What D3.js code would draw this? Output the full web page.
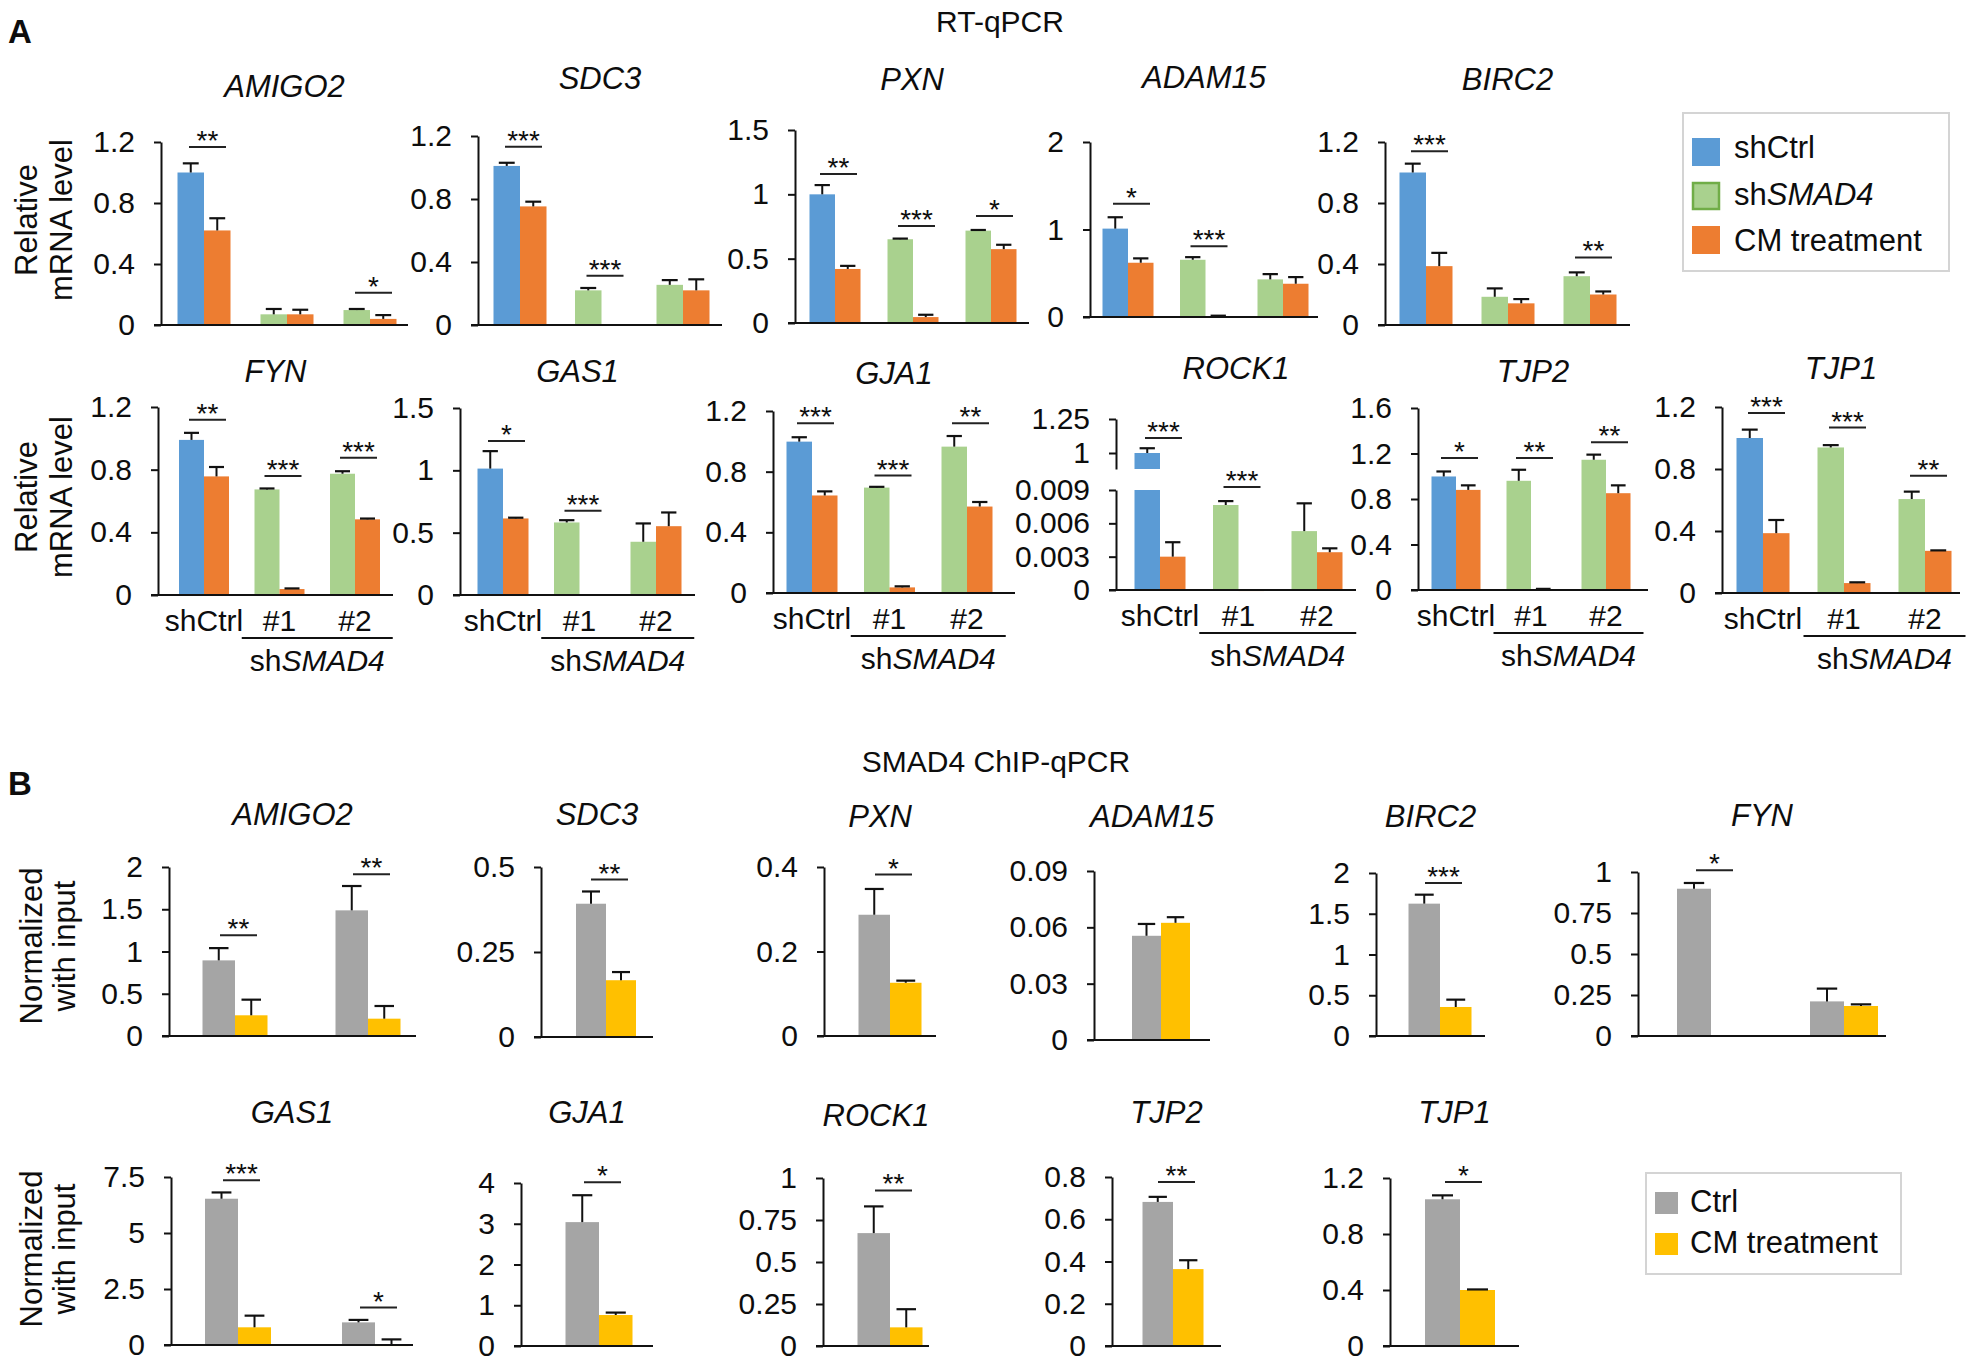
<!DOCTYPE html>
<html><head><meta charset="utf-8">
<script src="https://cdn.jsdelivr.net/npm/d3@7"></script>
<style>
body{margin:0;background:#fff;}
svg text{font-family:"Liberation Sans",Arial,sans-serif;fill:#0d0d0d;}
</style></head><body>
<svg id="fig" width="1983" height="1363"></svg>
<script>
// ---------------- DATA: panel A (RT-qPCR) ----------------
const rtGenes = ["AMIGO2","SDC3","PXN","ADAM15","BIRC2","FYN","GAS1","GJA1","ROCK1","TJP2","TJP1"];
const rtGroups = ["shCtrl","#1","#2"];
const rtShCtrl      = [1.00, 1.01, 1.00, 1.01, 1.00, 0.99, 1.014, 0.998, 1.0, 0.998, 1.00];
const rtShCtrlErr   = [0.06, 0.02, 0.072, 0.13, 0.058, 0.045, 0.14, 0.029, 0.035, 0.044, 0.054];
const rtShCtrlCM    = [0.62, 0.753, 0.42, 0.62, 0.386, 0.757, 0.614, 0.643, 0.003, 0.88, 0.386];
const rtShCtrlCMErr = [0.08, 0.03, 0.024, 0.05, 0.087, 0.06, 0.006, 0.027, 0.0013, 0.04, 0.085];
const rtSh1         = [0.07, 0.22, 0.651, 0.654, 0.185, 0.674, 0.582, 0.695, 0.00765, 0.96, 0.939];
const rtSh1Err      = [0.035, 0.015, 0.005, 0.03, 0.055, 0.006, 0.018, 0.005, 0.00035, 0.097, 0.015];
const rtSh1CM       = [0.07, 0, 0.046, 0.01, 0.142, 0.038, 0, 0.037, 0.00004, 0.005, 0.064];
const rtSh1CMErr    = [0.03, 0, 0.018, 0.005, 0.028, 0.004, 0, 0.007, 0, 0.005, 0.005];
const rtSh2         = [0.098, 0.255, 0.718, 0.43, 0.32, 0.774, 0.427, 0.965, 0.0053, 1.145, 0.606];
const rtSh2Err      = [0.007, 0.03, 0.005, 0.06, 0.025, 0.016, 0.147, 0.07, 0.0025, 0.045, 0.048];
const rtSh2CM       = [0.04, 0.22, 0.574, 0.38, 0.20, 0.483, 0.552, 0.57, 0.0034, 0.851, 0.272];
const rtSh2CMErr    = [0.025, 0.07, 0.034, 0.076, 0.02, 0.005, 0.11, 0.03, 0.00035, 0.069, 0.003];
const rtYTicks = [
  [0,0.4,0.8,1.2],[0,0.4,0.8,1.2],[0,0.5,1,1.5],[0,1,2],[0,0.4,0.8,1.2],
  [0,0.4,0.8,1.2],[0,0.5,1,1.5],[0,0.4,0.8,1.2],[0,0.003,0.006,0.009],[0,0.4,0.8,1.2,1.6],[0,0.4,0.8,1.2]
];
const rock1UpperTicks = [1, 1.25];
const rtSig = [
  [[0,"**",1.167],[2,"*",0.212]],
  [[0,"***",1.132],[1,"***",0.313]],
  [[0,"**",1.159],[1,"***",0.754],[2,"*",0.831]],
  [[0,"*",1.293],[1,"***",0.81]],
  [[0,"***",1.139],[2,"**",0.443]],
  [[0,"**",1.119],[1,"***",0.759],[2,"***",0.876]],
  [[0,"*",1.236],[1,"***",0.675]],
  [[0,"***",1.119],[1,"***",0.774],[2,"**",1.119]],
  [[0,"***",1.11],[1,"***",0.00927]],
  [[0,"*",1.16],[1,"**",1.16],[2,"**",1.298]],
  [[0,"***",1.161],[1,"***",1.067],[2,"**",0.756]]
];

// ---------------- DATA: panel B (SMAD4 ChIP-qPCR) ----------------
const chipGenes    = ["AMIGO2","SDC3","PXN","ADAM15","BIRC2","FYN","GAS1","GJA1","ROCK1","TJP2","TJP1"];
const chipCtrl1    = [0.895, 0.392, 0.287, 0.0555, 1.624, 0.898, 6.53, 3.04, 0.672, 0.682, 1.048];
const chipCtrl1Err = [0.145, 0.036, 0.061, 0.0063, 0.11, 0.035, 0.28, 0.66, 0.159, 0.024, 0.028];
const chipCM1      = [0.245, 0.167, 0.126, 0.0624, 0.356, 0, 0.79, 0.76, 0.111, 0.364, 0.40];
const chipCM1Err   = [0.185, 0.024, 0.005, 0.003, 0.09, 0, 0.52, 0.06, 0.108, 0.042, 0.004];
const chipCtrl2    = [1.487, null, null, null, null, 0.211, 1.01, null, null, null, null];
const chipCtrl2Err = [0.288, null, null, null, null, 0.078, 0.11, null, null, null, null];
const chipCM2      = [0.205, null, null, null, null, 0.183, 0.02, null, null, null, null];
const chipCM2Err   = [0.15, null, null, null, null, 0.01, 0.23, null, null, null, null];
const chipYTicks = [
  [0,0.5,1,1.5,2],[0,0.25,0.5],[0,0.2,0.4],[0,0.03,0.06,0.09],[0,0.5,1,1.5,2],[0,0.25,0.5,0.75,1],
  [0,2.5,5,7.5],[0,1,2,3,4],[0,0.25,0.5,0.75,1],[0,0.2,0.4,0.6,0.8],[0,0.4,0.8,1.2]
];
const chipSig = [
  [[0,"**",1.191],[1,"**",1.913]],
  [[0,"**",0.463]],
  [[0,"*",0.382]],
  [],
  [[0,"***",1.877]],
  [[0,"*",1.01]],
  [[0,"***",7.35],[1,"*",1.67]],
  [[0,"*",4.02]],
  [[0,"**",0.926]],
  [[0,"**",0.776]],
  [[0,"*",1.171]]
];

// ---------------- LAYOUT (pixels) ----------------
// [axisX, axisEnd, firstGroupCenter, groupStep, barWidth, zeroY, topTickY, titleBaseline]
const rtLayout = [
  [161, 408, 204, 83, 26.5, 325, 142, 97],
  [478, 722, 520, 81.5, 26.5, 325, 136, 89],
  [795, 1029, 835, 78, 25.5, 323, 130, 90],
  [1090, 1318, 1128, 77.5, 25.5, 317, 142, 88],
  [1385, 1630, 1426, 82, 26.5, 325, 142, 90],
  [158, 393, 204, 75.5, 25, 595, 407, 382],
  [460, 695, 503, 76.5, 25.5, 595, 408, 382],
  [773, 1015, 812, 77.5, 25.5, 593, 411, 384],
  [1116, 1356, 1160, 78.5, 25.5, 590, 490, 379],
  [1418, 1648, 1456, 75, 24.5, 590, 408, 382],
  [1722, 1960, 1763, 81, 26.5, 593, 407, 379]
];
const chipLayout = [
  [169, 416, 235, 133, 32.5, 1036, 867, 825],
  [541, 653, 606, 100, 30, 1037, 867, 825],
  [824, 936, 890, 100, 31.5, 1036, 867, 827],
  [1094, 1210, 1161, 100, 29, 1040, 871, 827],
  [1376, 1485, 1440, 100, 31.5, 1036, 873, 827],
  [1638, 1886, 1711, 133, 34, 1036, 872, 826],
  [171, 413, 238, 137, 33, 1345, 1177, 1123],
  [521, 653, 599, 100, 33.5, 1346, 1183, 1123],
  [823, 929, 890, 100, 32.5, 1346, 1178, 1126],
  [1112, 1221, 1173, 100, 30.5, 1346, 1177, 1123],
  [1390, 1519, 1460, 100, 35, 1346, 1178, 1123]
];

const C = {blue:"#5B9BD5", green:"#A9D18E", greenEdge:"#70AD47", orange:"#ED7D31", gray:"#A5A5A5", yellow:"#FFC000"};
const FONT = '"Liberation Sans", Arial, sans-serif';
const svg = d3.select("#fig");
const fmt = d3.format("~g");

function yAxis(g, scale, ticks, ax) {
  g.append("g").attr("transform", `translate(${ax},0)`)
    .call(d3.axisLeft(scale).tickValues(ticks).tickSize(7).tickSizeOuter(0).tickPadding(19).tickFormat(fmt))
    .call(a => {
      a.attr("font-family", FONT);
      a.select(".domain").attr("stroke", "#111").attr("stroke-width", 2);
      a.selectAll(".tick line").attr("stroke", "#111").attr("stroke-width", 2);
      a.selectAll(".tick text").attr("font-size", 30).attr("fill", "#0d0d0d");
    });
}

function drawChart(p) {
  const g = svg.append("g");
  const n = p.groups.length;
  const x = d3.scaleBand().domain(p.groups).range([p.c0 - p.s / 2, p.c0 - p.s / 2 + n * p.s]);
  const sub = d3.scaleBand().domain([0, 1]).range([-p.bw, p.bw]);
  const cx = (gi) => x(p.groups[gi]) + x.bandwidth() / 2;
  const y = p.y;
  p.bars.forEach((grp, gi) => {
    grp.forEach((b, j) => {
      if (b.v == null) return;
      const bx = cx(gi) + sub(j);
      if (p.split && b.v > p.split.limit) {
        g.append("rect").attr("x", bx).attr("width", sub.bandwidth())
          .attr("y", p.split.lowTop).attr("height", p.zero - p.split.lowTop).attr("fill", b.c);
        g.append("rect").attr("x", bx).attr("width", sub.bandwidth())
          .attr("y", y(b.v)).attr("height", p.split.upBottom - y(b.v)).attr("fill", b.c);
      } else if (b.v > 0) {
        g.append("rect").attr("x", bx).attr("width", sub.bandwidth())
          .attr("y", y(b.v)).attr("height", Math.max(1.5, p.zero - y(b.v))).attr("fill", b.c);
      }
      if (b.e) {
        const mx = bx + sub.bandwidth() / 2, cw = sub.bandwidth() * 0.6;
        g.append("line").attr("x1", mx).attr("x2", mx).attr("y1", y(b.v)).attr("y2", y(b.v + b.e))
          .attr("stroke", "#111").attr("stroke-width", 2);
        g.append("line").attr("x1", mx - cw / 2).attr("x2", mx + cw / 2).attr("y1", y(b.v + b.e)).attr("y2", y(b.v + b.e))
          .attr("stroke", "#111").attr("stroke-width", 2.2);
      }
    });
  });
  p.axes.forEach(a => yAxis(g, a.scale, a.ticks, p.ax));
  g.append("line").attr("x1", p.ax - 7).attr("x2", p.ex).attr("y1", p.zero).attr("y2", p.zero)
    .attr("stroke", "#111").attr("stroke-width", 2);
  p.sig.forEach(([gi, lab, lv]) => {
    const c = cx(gi), ly = y(lv);
    g.append("line").attr("x1", c - 15).attr("x2", c + 22).attr("y1", ly).attr("y2", ly)
      .attr("stroke", "#222").attr("stroke-width", 2);
    g.append("text").attr("x", c + 3.5).attr("y", ly + 3).attr("text-anchor", "middle")
      .attr("font-size", 28).text(lab);
  });
  g.append("text").attr("x", (p.ax + p.ex) / 2).attr("y", p.titleY).attr("text-anchor", "middle")
    .attr("font-size", 31).attr("font-style", "italic").text(p.gene);
  if (p.xlabels) {
    const ly = p.zero + 36;
    p.groups.forEach((gr, gi) => {
      g.append("text").attr("x", cx(gi)).attr("y", ly).attr("text-anchor", "middle")
        .attr("font-size", 30).text(gr);
    });
    const l0 = x(p.groups[1]), l1 = x(p.groups[2]) + x.bandwidth();
    g.append("line").attr("x1", l0).attr("x2", l1).attr("y1", p.zero + 43).attr("y2", p.zero + 43)
      .attr("stroke", "#111").attr("stroke-width", 2);
    const t = g.append("text").attr("x", (l0 + l1) / 2).attr("y", p.zero + 76)
      .attr("text-anchor", "middle").attr("font-size", 30);
    t.append("tspan").text("sh");
    t.append("tspan").attr("font-style", "italic").text("SMAD4");
  }
}

// ---------- Panel A ----------
rtGenes.forEach((gene, i) => {
  const [ax, ex, c0, s, bw, zero, top, titleY] = rtLayout[i];
  const ticks = rtYTicks[i];
  let y, axes, split = null;
  if (gene === "ROCK1") {
    const yL = d3.scaleLinear().domain([0, 0.009]).range([zero, top]);
    const yU = d3.scaleLinear().domain([1, 1.25]).range([453, 419]);
    y = v => (v > 0.05 ? yU(v) : yL(v));
    const yUaxis = d3.scaleLinear().domain([yU.invert(469), 1.25]).range([469, 419]);
    axes = [{scale: yL, ticks: ticks}, {scale: yUaxis, ticks: rock1UpperTicks}];
    split = {limit: 0.05, lowTop: top, upBottom: 469};
  } else {
    y = d3.scaleLinear().domain([0, ticks[ticks.length - 1]]).range([zero, top]);
    axes = [{scale: y, ticks: ticks}];
  }
  const bars = [
    [{v: rtShCtrl[i], e: rtShCtrlErr[i], c: C.blue}, {v: rtShCtrlCM[i], e: rtShCtrlCMErr[i], c: C.orange}],
    [{v: rtSh1[i], e: rtSh1Err[i], c: C.green}, {v: rtSh1CM[i], e: rtSh1CMErr[i], c: C.orange}],
    [{v: rtSh2[i], e: rtSh2Err[i], c: C.green}, {v: rtSh2CM[i], e: rtSh2CMErr[i], c: C.orange}]
  ];
  drawChart({gene, groups: rtGroups, bars, y, axes, split, sig: rtSig[i], ax, ex, c0, s, bw, zero, titleY, xlabels: i >= 5});
});

// ---------- Panel B ----------
chipGenes.forEach((gene, i) => {
  const [ax, ex, c0, s, bw, zero, top, titleY] = chipLayout[i];
  const ticks = chipYTicks[i];
  const y = d3.scaleLinear().domain([0, ticks[ticks.length - 1]]).range([zero, top]);
  const bars = [[{v: chipCtrl1[i], e: chipCtrl1Err[i], c: C.gray}, {v: chipCM1[i], e: chipCM1Err[i], c: C.yellow}]];
  const groups = ["a"];
  if (chipCtrl2[i] != null) {
    bars.push([{v: chipCtrl2[i], e: chipCtrl2Err[i], c: C.gray}, {v: chipCM2[i], e: chipCM2Err[i], c: C.yellow}]);
    groups.push("b");
  }
  drawChart({gene, groups, bars, y, axes: [{scale: y, ticks}], sig: chipSig[i], ax, ex, c0, s, bw, zero, titleY, xlabels: false});
});

// ---------- Titles, panel letters, y labels ----------
svg.append("text").attr("x", 8).attr("y", 43).attr("font-size", 33).attr("font-weight", "bold").text("A");
svg.append("text").attr("x", 8).attr("y", 795).attr("font-size", 33).attr("font-weight", "bold").text("B");
svg.append("text").attr("x", 1000).attr("y", 32).attr("text-anchor", "middle").attr("font-size", 30).text("RT-qPCR");
svg.append("text").attr("x", 996).attr("y", 772).attr("text-anchor", "middle").attr("font-size", 30).text("SMAD4 ChIP-qPCR");

function yLabel(cy, l1, l2, x1, x2) {
  [[l1, x1], [l2, x2]].forEach(([t, bx]) => {
    svg.append("text").attr("transform", `translate(${bx},${cy}) rotate(-90)`)
      .attr("text-anchor", "middle").attr("font-size", 31).text(t);
  });
}
yLabel(220, "Relative", "mRNA level", 37, 72);
yLabel(497, "Relative", "mRNA level", 37, 72);
yLabel(946, "Normalized", "with input", 42, 75);
yLabel(1249, "Normalized", "with input", 42, 75);

// ---------- Legends ----------
const legA = svg.append("g");
legA.append("rect").attr("x", 1683).attr("y", 113).attr("width", 266).attr("height", 158)
  .attr("fill", "none").attr("stroke", "#D4D4D4").attr("stroke-width", 2);
const legAItems = [["shCtrl", C.blue, null, 138, 158], ["sh", C.green, C.greenEdge, 182, 205], ["CM treatment", C.orange, null, 226, 251]];
legAItems.forEach(([t, c, edge, sy, by], k) => {
  legA.append("rect").attr("x", edge ? 1693 : 1692).attr("y", edge ? sy + 1 : sy).attr("width", edge ? 26 : 28).attr("height", edge ? 26 : 28)
    .attr("fill", c).attr("stroke", edge || "none").attr("stroke-width", edge ? 2.5 : 0);
  const tx = legA.append("text").attr("x", 1734).attr("y", by).attr("font-size", 31);
  tx.append("tspan").text(t);
  if (k === 1) tx.append("tspan").attr("font-style", "italic").text("SMAD4");
});
const legB = svg.append("g");
legB.append("rect").attr("x", 1646).attr("y", 1173).attr("width", 255).attr("height", 101)
  .attr("fill", "none").attr("stroke", "#D4D4D4").attr("stroke-width", 2);
[["Ctrl", C.gray, 1192, 1212], ["CM treatment", C.yellow, 1233, 1253]].forEach(([t, c, sy, by]) => {
  legB.append("rect").attr("x", 1655).attr("y", sy).attr("width", 23).attr("height", 22).attr("fill", c);
  legB.append("text").attr("x", 1690).attr("y", by).attr("font-size", 31).text(t);
});
</script>
</body></html>
